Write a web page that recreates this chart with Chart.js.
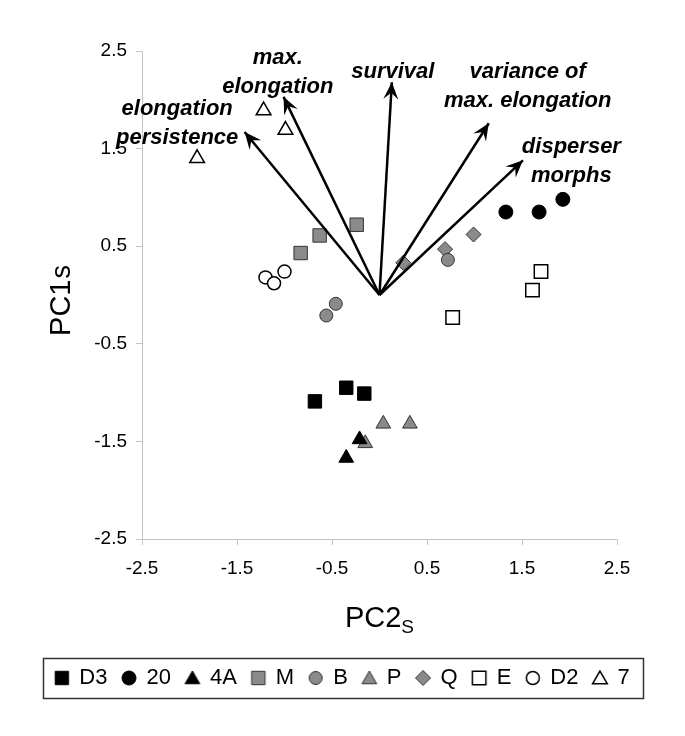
<!DOCTYPE html>
<html>
<head>
<meta charset="utf-8">
<script src="https://cdn.jsdelivr.net/npm/chart.js@4.4.1/dist/chart.umd.min.js"></script>
<style>
    html, body { margin: 0; padding: 0; background: #fff; }
    #wrap { width: 685px; height: 736px; }
</style>
</head>
<body>
<div id="wrap"><canvas id="pcaChart" width="685" height="736"></canvas></div>
<script>
// Population scores (PC2s, PC1s)
const ptsD3 = [[-0.35, -0.95], [-0.16, -1.01], [-0.68, -1.09]];
const pts20 = [[1.33, 0.85], [1.68, 0.85], [1.93, 0.98]];
const pts4A = [[-0.21, -1.48], [-0.35, -1.67]];
const ptsM = [[-0.83, 0.43], [-0.63, 0.61], [-0.24, 0.72]];
const ptsB = [[0.72, 0.36], [-0.46, -0.09], [-0.56, -0.21]];
const ptsP = [[0.04, -1.32], [0.32, -1.32], [-0.15, -1.52]];
const ptsQ = [[0.25, 0.33], [0.69, 0.47], [0.99, 0.62]];
const ptsE = [[1.70, 0.24], [1.61, 0.05], [0.77, -0.23]];
const ptsD2 = [[-1.20, 0.18], [-1.00, 0.24], [-1.11, 0.12]];
const pts7 = [[-1.22, 1.89], [-0.99, 1.69], [-1.92, 1.40]];

const groupNames = ['D3', '20', '4A', 'M', 'B', 'P', 'Q', 'E', 'D2', '7'];
const groupPoints = [ptsD3, pts20, pts4A, ptsM, ptsB, ptsP, ptsQ, ptsE, ptsD2, pts7];

// Loading vectors
const arrowNames = [['elongation', 'persistence'], ['max.', 'elongation'], ['survival'],
    ['variance of', 'max. elongation'], ['disperser', 'morphs']];
const arrowPC2 = [-1.42, -1.01, 0.13, 1.15, 1.51];
const arrowPC1 = [1.67, 2.03, 2.18, 1.76, 1.38];

const xTicks = [-2.5, -1.5, -0.5, 0.5, 1.5, 2.5];
const yTicks = [-2.5, -1.5, -0.5, 0.5, 1.5, 2.5];

const BLACK = '#000000';
const GREY = '#8a8a8a';
const WHITE = '#ffffff';

// marker look per group
const markerStyles = [
    { style: 'rect', fill: BLACK, radius: 9.5 },
    { style: 'circle', fill: BLACK, radius: 7 },
    { style: 'triangle', fill: BLACK, radius: 8.5 },
    { style: 'rect', fill: GREY, radius: 9.5 },
    { style: 'circle', fill: GREY, radius: 6.5 },
    { style: 'triangle', fill: GREY, radius: 8.5 },
    { style: 'rectRot', fill: GREY, radius: 7.5 },
    { style: 'rect', fill: WHITE, radius: 9.5 },
    { style: 'circle', fill: WHITE, radius: 6.5 },
    { style: 'triangle', fill: WHITE, radius: 8.5 }
];

// where the arrow labels sit (data coords of first line, centre / baseline)
const arrowLabelPos = [[-2.13, 1.84], [-1.07, 2.37], [0.14, 2.22], [1.56, 2.22], [2.02, 1.46]];

function strokeFor(fill) { return fill === GREY ? '#333333' : BLACK; }
function widthFor(fill) { return fill === WHITE ? 1.5 : 1; }

// small canvases so the legend symbols get the same size as the plot markers
function legendIcon(m) {
    const c = document.createElement('canvas');
    c.width = 22;
    c.height = 22;
    const g = c.getContext('2d');
    g.fillStyle = m.fill;
    g.strokeStyle = strokeFor(m.fill);
    g.lineWidth = widthFor(m.fill);
    Chart.helpers.drawPoint(g, { pointStyle: m.style, radius: m.radius, rotation: 0, borderWidth: g.lineWidth }, 11, m.style === 'triangle' ? 12.5 : 11);
    return c;
}
const legendIcons = markerStyles.map(legendIcon);

const datasets = [];
groupNames.forEach(function(name, i) {
    const m = markerStyles[i];
    datasets.push({
        label: name,
        data: groupPoints[i].map(function(p) { return { x: p[0], y: p[1] }; }),
        pointStyle: m.style,
        pointRadius: m.radius,
        pointHoverRadius: m.radius,
        backgroundColor: m.fill,
        borderColor: strokeFor(m.fill),
        borderWidth: widthFor(m.fill),
        order: 2
    });
});
arrowNames.forEach(function(name, i) {
    datasets.push({
        label: name.join(' '),
        data: [{ x: 0, y: 0 }, { x: arrowPC2[i], y: arrowPC1[i] }],
        showLine: true,
        pointRadius: 0,
        borderColor: BLACK,
        borderWidth: 2.5,
        isArrow: true,
        order: 1
    });
});

const FONT = '"Liberation Sans", Arial, sans-serif';

const extrasPlugin = {
    id: 'extras',
    afterDatasetsDraw: function(chart) {
        const ctx = chart.ctx;
        const xs = chart.scales.x, ys = chart.scales.y;
        ctx.save();
        // arrow heads
        chart.data.datasets.forEach(function(ds) {
            if (!ds.isArrow) return;
            const x0 = xs.getPixelForValue(ds.data[0].x), y0 = ys.getPixelForValue(ds.data[0].y);
            const x1 = xs.getPixelForValue(ds.data[1].x), y1 = ys.getPixelForValue(ds.data[1].y);
            const len = Math.hypot(x1 - x0, y1 - y0);
            const ux = (x1 - x0) / len, uy = (y1 - y0) / len;
            const nx = -uy, ny = ux;
            const L = 17, W = 7.5;
            ctx.beginPath();
            ctx.moveTo(x1, y1);
            ctx.lineTo(x1 - L * ux + W * nx, y1 - L * uy + W * ny);
            ctx.lineTo(x1 - 0.62 * L * ux, y1 - 0.62 * L * uy);
            ctx.lineTo(x1 - L * ux - W * nx, y1 - L * uy - W * ny);
            ctx.closePath();
            ctx.fillStyle = BLACK;
            ctx.fill();
        });
        // arrow labels
        ctx.font = 'italic bold 22px ' + FONT;
        ctx.fillStyle = BLACK;
        ctx.textAlign = 'center';
        ctx.textBaseline = 'alphabetic';
        arrowNames.forEach(function(lines, i) {
            const px = xs.getPixelForValue(arrowLabelPos[i][0]);
            const py = ys.getPixelForValue(arrowLabelPos[i][1]);
            lines.forEach(function(t, k) {
                ctx.fillText(t, px, py + k * 29);
            });
        });
        ctx.restore();
    },
    afterDraw: function(chart) {
        const ctx = chart.ctx;
        const area = chart.chartArea;
        ctx.save();
        ctx.fillStyle = BLACK;
        ctx.textBaseline = 'alphabetic';
        // x title with subscript
        const cx = (area.left + area.right) / 2;
        ctx.font = '29px ' + FONT;
        const w1 = ctx.measureText('PC2').width;
        ctx.font = '19px ' + FONT;
        const w2 = ctx.measureText('S').width;
        let sx = cx - (w1 + w2) / 2;
        ctx.font = '29px ' + FONT;
        ctx.textAlign = 'left';
        ctx.fillText('PC2', sx, 627);
        ctx.font = '19px ' + FONT;
        ctx.fillText('S', sx + w1, 633);
        // y title, rotated
        ctx.translate(70, (area.top + area.bottom) / 2 + 6);
        ctx.rotate(-Math.PI / 2);
        ctx.font = '29px ' + FONT;
        const h1 = ctx.measureText('PC1').width;
        ctx.font = '27px ' + FONT;
        const h2 = ctx.measureText('s').width;
        ctx.font = '29px ' + FONT;
        ctx.fillText('PC1', -(h1 + h2) / 2, 0);
        ctx.font = '27px ' + FONT;
        ctx.fillText('s', -(h1 + h2) / 2 + h1 + 1, 0);
        ctx.restore();
        // legend frame
        const lg = chart.legend;
        if (lg && lg.legendHitBoxes && lg.legendHitBoxes.length) {
            let minX = Infinity, maxX = -Infinity, midY = 0;
            lg.legendHitBoxes.forEach(function(b) {
                minX = Math.min(minX, b.left);
                maxX = Math.max(maxX, b.left + b.width);
                midY = b.top + b.height / 2;
            });
            ctx.save();
            ctx.strokeStyle = '#333333';
            ctx.lineWidth = 1.5;
            ctx.strokeRect(Math.round(minX - 12) + 0.5, Math.round(midY - 20) + 0.5,
                Math.round(maxX - minX + 26), 40);
            ctx.restore();
        }
    }
};

const axisGrey = '#c4c4c4';

new Chart(document.getElementById('pcaChart'), {
    type: 'scatter',
    data: { datasets: datasets },
    options: {
        responsive: false,
        animation: false,
        layout: { padding: { left: 0, right: 0, top: 51, bottom: 37 } },
        plugins: {
            legend: {
                position: 'bottom',
                labels: {
                    usePointStyle: true,
                    boxWidth: 13,
                    boxHeight: 13,
                    padding: 15,
                    color: BLACK,
                    font: { family: FONT, size: 22 },
                    filter: function(item) { return item.datasetIndex < groupNames.length; },
                    generateLabels: function(chart) {
                        const items = Chart.defaults.plugins.legend.labels.generateLabels(chart);
                        items.forEach(function(item) {
                            if (item.datasetIndex < legendIcons.length) {
                                item.pointStyle = legendIcons[item.datasetIndex];
                            }
                        });
                        return items;
                    }
                }
            },
            tooltip: { enabled: false }
        },
        scales: {
            x: {
                type: 'linear',
                min: -2.5,
                max: 2.5,
                afterBuildTicks: function(scale) { scale.ticks = xTicks.map(function(v) { return { value: v }; }); },
                afterFit: function(scale) { scale.height = 113; },
                grid: { display: true, drawOnChartArea: false, drawTicks: true, tickLength: 6, color: axisGrey },
                border: { display: true, color: axisGrey, width: 1 },
                ticks: {
                    padding: 12,
                    color: BLACK,
                    font: { family: FONT, size: 19 },
                    maxRotation: 0,
                    callback: function(v) { return Number(v).toFixed(1); }
                }
            },
            y: {
                type: 'linear',
                min: -2.5,
                max: 2.5,
                afterBuildTicks: function(scale) { scale.ticks = yTicks.map(function(v) { return { value: v }; }); },
                afterFit: function(scale) { scale.width = 142; },
                grid: { display: true, drawOnChartArea: false, drawTicks: true, tickLength: 6, color: axisGrey },
                border: { display: true, color: axisGrey, width: 1 },
                ticks: {
                    padding: 9,
                    color: BLACK,
                    font: { family: FONT, size: 19 },
                    callback: function(v) { return Number(v).toFixed(1); }
                }
            },
            // empty right-hand axis, only reserves the right margin
            yRight: {
                type: 'linear',
                position: 'right',
                display: true,
                afterFit: function(scale) { scale.width = 68; },
                grid: { display: false },
                border: { display: false },
                ticks: { display: false }
            }
        }
    },
    plugins: [extrasPlugin]
});
</script>
</body>
</html>
